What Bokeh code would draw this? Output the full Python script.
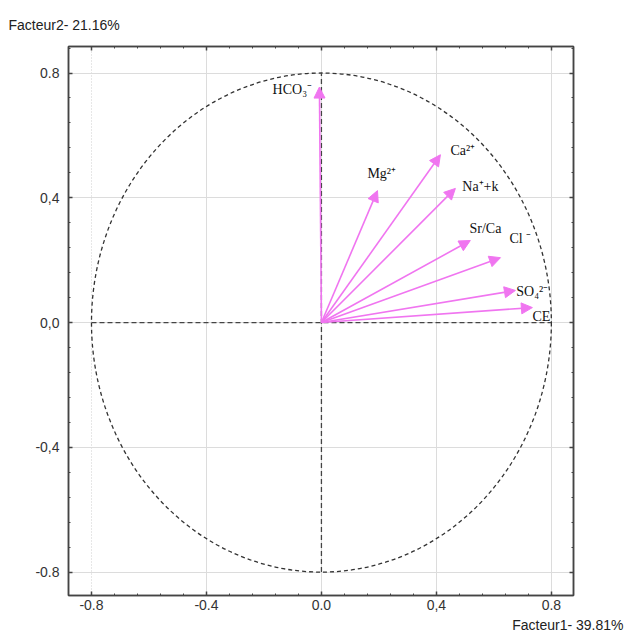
import numpy as np
from bokeh.plotting import figure
from bokeh.models import (Range1d, FixedTicker, LinearAxis, Grid, Arrow, NormalHead,
                          ColumnDataSource, Title)
from bokeh.core.properties import value
from bokeh.embed import file_html
from bokeh.resources import INLINE

# ---- data ----
variables = ["HCO₃⁻", "Mg²⁺", "Ca²⁺", "Na⁺+k", "Sr/Ca", "Cl ⁻", "SO₄²⁻", "CE"]
factor1 = [-0.007, 0.195, 0.414, 0.466, 0.518, 0.623, 0.675, 0.734]
factor2 = [0.755, 0.423, 0.538, 0.430, 0.263, 0.208, 0.103, 0.048]
label_x = [-0.17, 0.16, 0.449, 0.49, 0.515, 0.654, 0.678, 0.734]
label_y = [0.747, 0.478, 0.551, 0.436, 0.301, 0.269, 0.099, 0.019]

major_ticks = [-0.8, -0.4, 0.0, 0.4, 0.8]
x_tick_labels = ["-0.8", "-0.4", "0.0", "0,4", "0.8"]
y_tick_labels = ["-0.8", "-0,4", "0,0", "0,4", "0.8"]
minor_ticks = [round(v, 2) for v in np.arange(-0.88, 0.89, 0.08)]

x_title = "Facteur1- 39.81%"
y_title = "Facteur2- 21.16%"
circle_radius = 0.8

MAG = "#f075f0"
DARK = "#444444"
SANS = "Liberation Sans"
SERIF = "Liberation Serif"

p = figure(width=625, height=636, output_backend="svg", toolbar_location=None,
           x_range=Range1d(-0.88, 0.877), y_range=Range1d(-0.875, 0.885),
           min_border_left=68, min_border_right=52, min_border_top=46, min_border_bottom=41,
           x_axis_location=None, y_axis_location=None)
p.background_fill_color = "white"
p.border_fill_color = "white"
p.outline_line_color = DARK
p.outline_line_width = 1.5
p.grid.visible = False

ticker = FixedTicker(ticks=major_ticks, minor_ticks=minor_ticks)

def make_axis(labels, show):
    ax = LinearAxis(ticker=ticker)
    ax.axis_line_color = DARK
    ax.axis_line_width = 1.5
    ax.major_tick_in = 4
    ax.major_tick_out = 0
    ax.minor_tick_in = 2
    ax.minor_tick_out = 0
    ax.major_tick_line_color = DARK
    ax.minor_tick_line_color = DARK
    ax.major_tick_line_width = 1.5
    ax.major_label_text_font = SANS
    ax.major_label_overrides = {t: l for t, l in zip(major_ticks, labels)}
    if show:
        ax.major_label_text_font_size = "14px"
        ax.major_label_text_color = "#333333"
    else:
        ax.major_label_text_font_size = "1px"
        ax.major_label_text_color = None
        ax.major_label_standoff = 0
    return ax

xb = make_axis(x_tick_labels, True)
xb.major_label_standoff = 4
yl = make_axis(y_tick_labels, True)
yl.major_label_standoff = 9
xt = make_axis(x_tick_labels, False)
yr = make_axis(y_tick_labels, False)
p.add_layout(xb, "below")
p.add_layout(yl, "left")
p.add_layout(xt, "above")
p.add_layout(yr, "right")

# axis titles
p.add_layout(Title(text=y_title, align="left", offset=-60, text_font=SANS,
                   text_font_size="14px", text_color="#222222", text_font_style="normal",
                   standoff=28), "above")
p.add_layout(Title(text=x_title, align="right", offset=-50, text_font=SANS,
                   text_font_size="14px", text_color="#222222", text_font_style="normal",
                   standoff=5), "below")

# grids
gx = Grid(dimension=0, ticker=FixedTicker(ticks=major_ticks[1:]),
          grid_line_color="#dcdcdc", grid_line_width=1)
gx2 = Grid(dimension=0, ticker=FixedTicker(ticks=major_ticks[:1]),
           grid_line_color="#cfcfcf", grid_line_width=1, grid_line_dash="1 2")
gy = Grid(dimension=1, ticker=FixedTicker(ticks=major_ticks),
          grid_line_color="#dcdcdc", grid_line_width=1)
for g in (gx, gx2, gy):
    p.add_layout(g)

# circle and dashed cross
p.ellipse(x=0, y=0, width=2 * circle_radius, height=2 * circle_radius,
          fill_color=None, line_color="#333333", line_width=1.3, line_dash="4 3")
p.segment(x0=[-circle_radius, 0], y0=[0, -circle_radius],
          x1=[circle_radius, 0], y1=[0, circle_radius],
          line_color="#444444", line_width=1.3, line_dash="5 3")

# arrows
src = ColumnDataSource(dict(x0=[0.0] * len(factor1), y0=[0.0] * len(factor1),
                            x1=factor1, y1=factor2))
p.add_layout(Arrow(end=NormalHead(size=11, fill_color=MAG, line_color=MAG),
                   x_start="x0", y_start="y0", x_end="x1", y_end="y1",
                   source=src, line_color=MAG, line_width=1.6))

# variable labels
p.text(x=label_x, y=label_y, text=variables, text_font=value(SERIF),
       text_font_size="14px", text_color="#111111", text_baseline="middle",
       text_align="left")

open("out.html", "w").write(file_html(p, INLINE))
